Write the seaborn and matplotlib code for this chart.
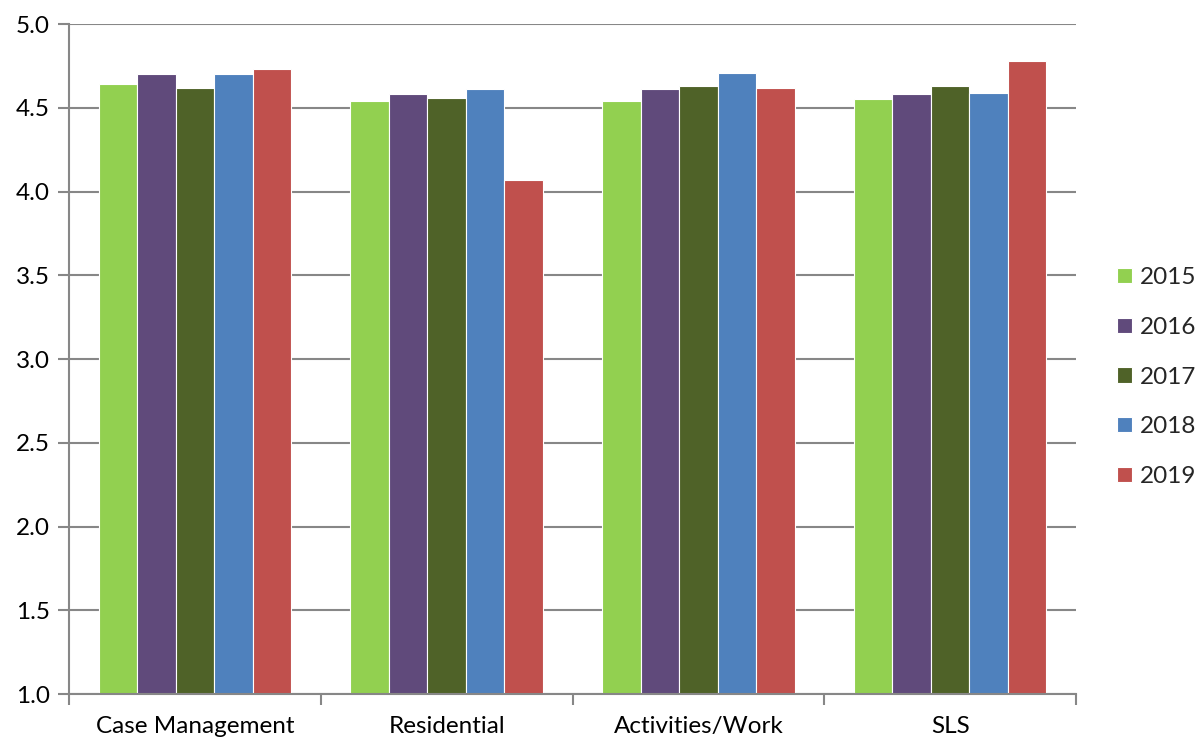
import matplotlib
matplotlib.use("Agg")
import matplotlib.pyplot as plt
import seaborn as sns
import pandas as pd

categories = ["Case Management", "Residential", "Activities/Work", "SLS"]
years = ["2015", "2016", "2017", "2018", "2019"]
v2015 = [4.64, 4.54, 4.54, 4.55]
v2016 = [4.70, 4.58, 4.61, 4.58]
v2017 = [4.62, 4.56, 4.63, 4.63]
v2018 = [4.70, 4.61, 4.71, 4.59]
v2019 = [4.73, 4.07, 4.62, 4.78]
colors = ["#92D050", "#604A7B", "#4F6228", "#4F81BD", "#C0504D"]

series = [v2015, v2016, v2017, v2018, v2019]
rows = []
for y, vals in zip(years, series):
    for c, v in zip(categories, vals):
        rows.append({"category": c, "year": y, "value": v})
df = pd.DataFrame(rows)

sns.set_theme(style="white")
plt.rcParams['font.family'] = ['Lato', 'DejaVu Sans']
FS = 17.5

fig = plt.figure(figsize=(12, 7.41), dpi=100)
ax = fig.add_axes([0.0575, 0.0634, 0.8392, 0.9042])

sns.barplot(data=df, x="category", y="value", hue="year", order=categories,
            hue_order=years, palette=colors, width=0.765, edgecolor="white",
            linewidth=0.8, ax=ax, legend=True, saturation=1)

ax.set_ylim(1.0, 5.0)
ax.set_xlim(-0.5, 3.5)
ax.set_yticks([1.0, 1.5, 2.0, 2.5, 3.0, 3.5, 4.0, 4.5, 5.0])
ax.set_yticklabels([f"{t:.1f}" for t in ax.get_yticks()], fontsize=FS, color="black")
ax.yaxis.grid(True, color="#878787", linewidth=1.5)
ax.set_axisbelow(True)
ax.set_xlabel("")
ax.set_ylabel("")
for s in ["top", "right"]:
    ax.spines[s].set_visible(False)
for s in ["left", "bottom"]:
    ax.spines[s].set_color("#878787")
    ax.spines[s].set_linewidth(1.5)
ax.tick_params(axis="y", which="major", left=True, length=8, width=1.5, color="#878787", pad=6)
ax.tick_params(axis="x", which="major", bottom=False, labelsize=FS, labelcolor="black", pad=10)
ax.set_xticks([-0.5, 0.5, 1.5, 2.5, 3.5], minor=True)
ax.tick_params(axis="x", which="minor", bottom=True, length=8, width=1.5, color="#878787")

handles, labels = ax.get_legend_handles_labels()
ax.legend(handles, labels, loc="center left", bbox_to_anchor=(0.931, 0.491),
          bbox_transform=fig.transFigure, frameon=False, fontsize=FS,
          handlelength=0.6, handleheight=0.6, handletextpad=0.35, labelspacing=1.18,
          borderpad=0, borderaxespad=0)

fig.savefig("out.png", dpi=100)
